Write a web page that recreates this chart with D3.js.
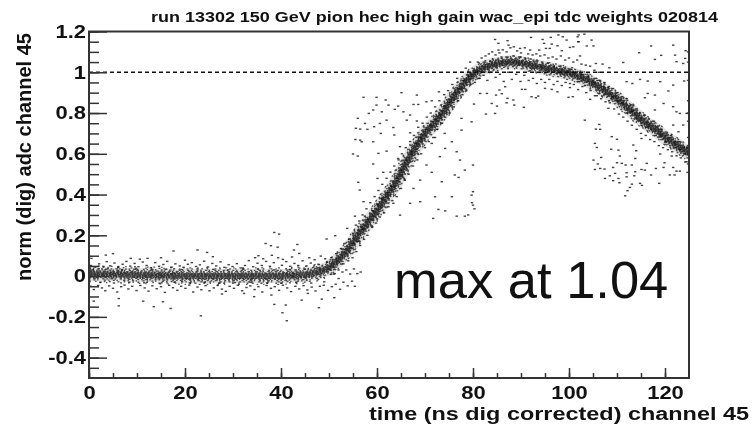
<!DOCTYPE html>
<html><head><meta charset="utf-8">
<script src="https://cdn.jsdelivr.net/npm/d3@7"></script>
<style>html,body{margin:0;background:#fff}svg{display:block;filter:blur(.4px)}text{font-family:"Liberation Sans",Arial,sans-serif;fill:#111}</style>
</head><body><svg id="c" width="752" height="426"></svg>
<script>
const titleText="run 13302 150 GeV pion hec high gain wac_epi tdc weights 020814";
const xLabel="time (ns dig corrected) channel 45";
const yLabel="norm (dig) adc channel 45";
const note="max at 1.04";
const xMajor=[0,20,40,60,80,100,120];
const yMajor=[-0.4,-0.2,0,0.2,0.4,0.6,0.8,1,1.2];
const yFormatted=["-0.4","-0.2","0","0.2","0.4","0.6","0.8","1","1.2"];
const pulseTime=[0,10,20,30,40,45,48,50,52,54,56,58,60,62,64,66,68,70,72,74,76,78,80,82,84,86,88,90,92,94,96,98,100,102,104,106,108,110,112,114,116,118,120,122,125];
const pulseValue=[0.01,0.005,0,0,0,0.005,0.02,0.04,0.08,0.13,0.2,0.26,0.32,0.39,0.46,0.55,0.63,0.7,0.75,0.81,0.88,0.94,0.99,1.02,1.035,1.045,1.05,1.045,1.035,1.025,1.015,1.005,0.995,0.98,0.96,0.93,0.9,0.87,0.83,0.79,0.75,0.72,0.68,0.65,0.6];
const baselineScatter=[[17.6,.123],[22.6,.128],[24.6,.116],[23.3,-.195],[17,-.159],[13.5,-.15],[11.3,-.123],[6.2,-.146],[6.2,-.11],[1,-.123],[15.4,-.126],[5,.11],[3.5,.103],[8.7,.087],[10.6,.083],[12.2,.087],[15,.09],[20,.078],[25.8,.095],[.5,.087],
[38.6,.214],[39.6,.206],[36.8,.16],[37.9,.149],[39.3,.142],[43.4,.155],[42.7,.128],[43.8,.111],[38.6,-.139],[41,-.142],[40.3,-.18],[41.2,-.219],[38,-.093],[44.3,-.118],[45.6,-.085],[47.9,-.155],[51.1,-.106],[48.5,-.113],[34.4,-.101],[27.7,-.088],[32.3,-.085],
[.4,.052],[1.2,.045],[2.1,.06],[3,.048],[3.7,.071],[4.4,.05],[5.3,.064],[6.1,.044],[7,.058],[7.8,.072],[8.6,.049],[9.5,.062],[10.3,.046],[11.2,.069],[12,.052],[12.9,.041],[13.8,.066],[14.6,.048],[15.5,.057],[16.3,.072],[17.2,.044],[18,.06],[18.9,.05],[19.7,.043],[20.6,.058],[21.4,.066],[22.3,.047],[23.1,.055],[24,.073],[24.8,.045],[25.7,.062],[26.5,.05],[27.4,.07],[28.2,.043],[29.1,.056],[29.9,.047],[30.8,.061],[31.6,.04],[32.5,.052],[33.3,.076],[34.2,.046],[34.6,.09],[35.1,.063],[35.3,.1],[36,.052],[36.3,.085],[36.9,.072],[37.7,.048],[38.1,.102],[38.5,.066],[39.4,.09],[40.2,.053],[40.4,.082],[41.1,.071],[41.9,.048],[42.3,.094],[42.8,.062],[43.6,.052],[44.5,.075],[45.3,.05],[45.9,.09],[46.2,.064],[47,.08],[47.8,.058],[48.3,.098],[49.2,.085],[49.6,.068],
[.3,-.05],[1,-.066],[1.9,-.046],[2.7,-.058],[3.4,-.072],[4.2,-.048],[5,-.06],[5.9,-.078],[6.7,-.052],[7.4,-.044],[8.2,-.063],[9,-.05],[9.9,-.071],[10.7,-.046],[11.6,-.058],[12.4,-.074],[13.2,-.048],[14.1,-.062],[15,-.052],[15.8,-.08],[16.7,-.045],[17.5,-.057],[18.4,-.07],[19.2,-.05],[20.1,-.06],[20.9,-.044],[21.7,-.078],[22.6,-.054],[23.4,-.067],[24.3,-.047],[25.1,-.072],[26,-.058],[26.8,-.046],[27.7,-.064],[28.5,-.075],[29.3,-.05],[30.2,-.06],[31,-.045],[31.9,-.072],[32.8,-.056],[33.6,-.048],[34.5,-.066],[35.3,-.052],[36.1,-.078],[37,-.046],[37.9,-.06],[38.7,-.052],[39.6,-.07],[40.4,-.045],[41.3,-.058],[42.1,-.076],[43,-.05],[43.8,-.063],[44.7,-.047],[45.5,-.068],[46.4,-.054],[47.2,-.073],[48.1,-.05],[48.9,-.045],[49.8,-.07],[50.6,-.052],[51.4,-.04],[52.3,-.065],[53,-.03],[53.9,-.048],[54.8,-.025],[55.4,-.05],
[.8,.03],[2.4,-.03],[3.6,.034],[5.2,-.034],[6.9,.032],[8.4,-.03],[9.8,.035],[11.5,-.033],[13,.03],[14.7,-.035],[16.1,.034],[17.8,-.03],[19.3,.032],[21,-.034],[22.6,.035],[24.1,-.03],[25.9,.033],[27.2,-.034],[29,.03],[30.4,-.032],[32.1,.035],[33.7,-.03],[35.2,.034],[37.1,-.034],[38.6,.03],[40.1,-.035],[41.8,.032],[43.2,-.03],[44.9,.034],[46.3,-.034],[47.7,.04],[49,-.028],[50.4,.008],[51.2,.012],[52,-.012],[52.8,.02],[53.6,.03],[54.4,.01],[55.2,.035],[55.9,.012],[56.6,.02]];
const riseScatter=[[49.5,.182],[51.3,.198],[53.8,.234],[57.2,.877],[59.9,.877],[61.8,.864],[65.1,.9],[68.3,.888],[72.9,.904],[59.9,.839],[62.4,.839],[64.4,.834],[67.6,.842],[68.6,.842],[70.3,.855],[71.4,.86],[58.3,.798],[59.2,.815],[61,.806],[63.7,.818],[65.5,.806],[66.9,.79],[56,.774],[57.5,.749],[59.4,.733],[60.6,.749],[62,.765],[63.4,.729],[66.2,.765],[68.3,.761],[55.6,.725],[56.5,.721],[58,.72],[60.8,.7],[63.6,.692],[66.9,.703],[56.5,.667],[55.5,.67],[56.8,.659],[59.2,.659],[62,.613],[60.3,.602],[55,.599],[56,.589],[64.8,.635],[64.4,.577],[59.2,.55],[61.3,.509],[56.1,.46],[60.1,.479],[56.4,.422],[57.2,.365],[55.4,.294],[64.8,.299],[63.4,.357],[67.6,.43],[69,.471],[71.4,.509],[73.5,.463],[75.6,.389],[72.1,.389],[69,.365],[66.9,.357],[72.8,.327],[74.2,.32],[71.7,.283],[76.6,.294],[78.3,.294],[80,.414],[80,.348],[79.7,.397],[78.3,.52],[77.3,.569],[75.6,.659],[74.2,.626],[76.6,.61],[80,.545],[77,.484],[76.2,.496],[73.1,.586],[70.3,.545],[71.4,.651],[77.6,.716],[77.6,.774],[79.7,.757],[74.1,.7],[72.1,.68],[79,.3],[80.3,.33],[79.8,.36],
[50.5,.09],[51.5,.11],[52.5,.135],[53.2,.16],[54.2,.18],[55,.21],[55.6,.25],[56.3,.27],[57,.3],[57.8,.33],[58.6,.36],[59.5,.39],[60.3,.42],[61.1,.45],[62,.48],[62.8,.51],[63.6,.54],[64.5,.57],[65.2,.6],[66,.63],[66.9,.66],[67.7,.69],[68.6,.73],[69.5,.75],[70.4,.78],[71.2,.8],[72.1,.83],[73,.86],[74,.89],[74.8,.91],[75.7,.94],[76.7,.97],[77.6,1],[78.5,1.02],[79.4,1.05],
[51,.01],[52,.03],[53,.06],[54,.075],[54.9,.09],[55.7,.12],[56.5,.15],[57.3,.18],[58,.2],[59,.24],[59.8,.26],[60.6,.29],[61.5,.31],[62.4,.34],[63.2,.37],[64.1,.39],[65,.43],[65.8,.47],[66.6,.5],[67.5,.54],[68.4,.57],[69.2,.6],[70,.63],[70.8,.66],[71.7,.68],[72.5,.72],[73.4,.75],[74.2,.78],[75.1,.8],[76,.83],[76.9,.86],[77.8,.89],[78.6,.91],[79.5,.94],[80.4,.95],[81.2,.97],
[55.2,.16],[56.1,.17],[57.1,.23],[58.2,.28],[59.1,.32],[60.1,.35],[61.1,.38],[62.2,.41],[63,.44],[64.2,.48],[65.1,.52],[66.1,.57],[67.1,.61],[68.1,.65],[69.1,.68],[70.2,.72],[71.1,.74],[72.2,.77],[73.1,.79],[74.1,.83],[75.1,.85],[76.1,.9],[77.1,.92],[78.1,.96],[79.1,.98]];
const peakScatter=[[84.6,1.161],[85.3,1.142],[87.2,1.155],[87.4,1.133],[92.1,1.171],[94.5,1.161],[96.2,1.171],[97.8,1.183],[99.5,1.158],[98.7,1.174],[101.8,1.174],[102,1.15],[94.8,1.142],[96.4,1.138],[97.6,1.13],[100.2,1.122],[100.9,1.125],[85.3,1.109],[89.8,1.117],[91.9,1.109],[93.8,1.109],[95.2,1.117],[96,1.117],[98.5,1.106],[81.5,.896],[82.9,.896],[84.8,.888],[86.7,.929],[85.5,.913],[86,.895],[83.9,.847],[85,.834],[87.2,.872],[88.4,.864],[87,.85],[88.6,.839],[90.6,.828],[84.6,.798],[82.7,.795],[80.2,.844],[90.2,.916],[90.9,.916],[92.2,.88],[93.6,.883],[93.1,.875],[95,.921],[96.4,.916],[97.6,.904],[99.9,.877],[100.8,.88],[100.2,.945],[102,.954],
[81,1.05],[81.8,1.07],[82.6,1.08],[83.3,1.09],[84,1.1],[84.7,1.085],[85.5,1.095],[86.2,1.11],[87,1.1],[87.8,1.12],[88.5,1.125],[89.2,1.105],[90,1.095],[90.8,1.12],[91.5,1.09],[92.4,1.085],[93.2,1.09],[94,1.08],[94.9,1.085],[95.7,1.07],[96.6,1.075],[97.4,1.065],[98.3,1.08],[99.2,1.06],[100,1.07],[100.9,1.05],[101.7,1.06],[102.6,1.04],[103.5,1.035],[104.4,1.03],[105.3,1.01],[106.2,1],
[81.4,.97],[82.2,.985],[83,.96],[83.9,1],[84.7,.975],[85.6,.99],[86.4,.955],[87.3,1],[88.1,.965],[89,.99],[89.9,.955],[90.7,.985],[91.6,.96],[92.5,.97],[93.3,.945],[94.2,.965],[95,.95],[95.9,.965],[96.8,.94],[97.6,.955],[98.5,.935],[99.3,.95],[100.2,.925],[101,.94],[101.9,.915],[102.8,.93],[103.6,.9],[104.5,.91],[105.4,.885],[106.3,.895],
[82.5,1.05],[83.6,1.055],[84.8,1.06],[86,1.07],[87.2,1.075],[88.4,1.08],[89.6,1.075],[90.8,1.07],[92,1.065],[93.2,1.055],[94.4,1.05],[95.6,1.045],[96.8,1.03],[98,1.03],[99.2,1.02],[100.4,1.015],[101.6,1],[102.8,.99],[104,.98],[105.2,.95]];
const fallScatter=[[117.1,1.129],[121.7,1.133],[114.6,1.096],[119.2,1.083],[117.9,1.063],[124.3,1.106],[122.1,1.084],[122.4,1.052],[124.2,1.068],[123.8,1.043],[111.3,1.048],[105.6,1.043],[107,1.04],[108.4,1.022],[104.7,1.158],[102,1.183],[103.2,1.187],[103.7,1.129],[105.1,1.129],[101.9,1.15],[102.3,1.08],[114.8,.965],[116.4,.957],[119,.954],[121.7,.937],[124,.957],[112,.954],[113.2,.945],[120.7,.908],[116.4,.896],[117.9,.888],[115.8,.875],[119.7,.847],[117.9,.815],[121.7,.831],[122.4,.806],[123.1,.798],[124.5,.798],[121.7,.741],[123.8,.741],[122.8,.708],[115.1,.675],[104.4,.867],[108.2,.823],[103.3,.765],[106.3,.744],[105.6,.721],[106.5,.72],[108.9,.684],[110,.671],[105.4,.651],[105.8,.631],[108.8,.622],[110.3,.618],[113.4,.643],[114,.615],[113.8,.577],[110.6,.589],[106.7,.582],[105.1,.569],[106,.55],[106.5,.528],[105.4,.523],[107.4,.525],[109.2,.533],[110,.556],[111,.553],[111.8,.545],[113.1,.545],[115.1,.523],[116.2,.553],[115.8,.52],[117.1,.496],[113.8,.512],[112,.507],[109.6,.504],[108.5,.492],[107.5,.479],[110.3,.479],[109.2,.468],[110.5,.458],[112,.487],[113.6,.492],[113.1,.451],[112.7,.435],[112.2,.419],[111.7,.394],[114.8,.455],[115.2,.445],[118.8,.455],[121,.496],[122,.496],[122.4,.515],[123.1,.515],[124.7,.509],[119.9,.556],[121.7,.533],[119.7,.533],[118.1,.528],[121.4,.589],[119,.599],[124.5,.561],
[124.8,1.1],[124.8,1.05],[124.8,.96],[124.8,.86],[124.8,.8],[124.8,.76],[124.8,.68],[124.8,.55],[124.8,.64],
[105.5,.97],[106.5,.96],[107.4,.95],[108.3,.93],[109.2,.92],[110.1,.9],[111,.88],[112,.87],[113,.84],[113.9,.82],[114.8,.8],[115.7,.79],[116.6,.77],[117.5,.76],[118.4,.73],[119.3,.72],[120.3,.7],[121.2,.69],[122.1,.66],[123,.66],[123.9,.63],[124.6,.63],
[105.8,.885],[106.7,.87],[107.6,.855],[108.5,.85],[109.4,.82],[110.4,.795],[111.3,.78],[112.2,.76],[113.1,.74],[114.1,.72],[115,.7],[116,.69],[116.9,.67],[117.8,.66],[118.7,.64],[119.6,.63],[120.6,.62],[121.5,.61],[122.4,.59],[123.3,.58],[124.2,.56],
[106.1,.96],[107.1,.93],[108.1,.925],[109.1,.88],[110.1,.86],[111.1,.85],[112.1,.8],[113.1,.81],[114.1,.77],[115.1,.74],[116.1,.73],[117.1,.72],[118.1,.69],[119.1,.69],[120.1,.66],[121.1,.64],[122.1,.63],[123.1,.62],[124.1,.6],[124.7,.58]];
const guideLevel=[1];
// texture of the dense band: strand offset across the band (px) and its dash rhythm
const strandOffset=[-7.5,-6.5,-5.2,-4,-3,-2,-1,0,1,2,3,4,5.2,6.5,7.5];
const strandDash=["1.5 7.3 2 11.1 1.5 4.7 2 5.9","2 3.7 1.5 6.1 2 2.9 1.5 8.3","2 1.7 1.5 3.1 2.5 1.3 1.5 4.3","2.5 1.1 1.5 2.3 3 1.7 2 .9 1.5 3.3","3 .7 2 1.3 1.5 .9 2.5 1.9","3.3 .6 2.1 1.1 2.7 .7 1.7 1.3","4.1 .5 2.3 .9 3.1 .6","2.9 .7 5.3 .5 1.9 .8 3.7 .6","4.3 .9 1.7 .6 3.3 1.1","1.9 1.3 3.7 .7 2.3 1.1 1.3 .9","2.3 1.9 1.7 .9 3.1 1.5 1.3 2.7","1.7 2.3 2.9 1.3 1.5 3.7 2.1 1.9","1.5 3.1 2 1.7 1.3 5.3 2.3 2.1","2 4.3 1.5 7.1 1.7 3.3 2 6.7","1.5 9.1 1.7 4.9 1.3 12.7 2 6.1"];

const L=89,R=689,T=31.5,B=378;
const x=d3.scaleLinear().domain([0,125]).range([L,R]);
const y=d3.scaleLinear().domain([-0.5,1.2]).range([B,T]);
const svg=d3.select("#c");
const px=pulseTime.map((t,i)=>[x(t),y(pulseValue[i])]);
// offset the measured centre line along its local normal, slightly wider on the flat baseline
const offsetLine=k=>px.map((p,i)=>{
  const a=px[Math.max(i-1,0)],b=px[Math.min(i+1,px.length-1)];
  const dx=b[0]-a[0],dy=b[1]-a[1],n=Math.hypot(dx,dy)||1;
  const w=pulseTime[i]<50?1.1:.85;
  return [p[0]-dy/n*k*w,p[1]+dx/n*k*w];
});
const line=d3.line();
svg.append("defs").append("clipPath").attr("id","pc").append("rect").attr("x",L).attr("y",T).attr("width",R-L).attr("height",B-T);
const plot=svg.append("g").attr("clip-path","url(#pc)");
plot.append("path").attr("d",line(px)).attr("fill","none").attr("stroke","#222").attr("stroke-opacity",.13).attr("stroke-width",14);
plot.append("path").attr("d",line(px)).attr("fill","none").attr("stroke","#111").attr("stroke-opacity",.35).attr("stroke-width",6);
plot.selectAll("path.s").data(strandOffset).join("path").attr("class","s")
 .attr("d",d=>line(offsetLine(d))).attr("fill","none").attr("stroke","#111").attr("stroke-opacity",.72).attr("stroke-width",1.3)
 .attr("stroke-dasharray",(d,i)=>strandDash[i]);
plot.selectAll("rect.p").data([...baselineScatter,...riseScatter,...peakScatter,...fallScatter]).join("rect").attr("class","p")
 .attr("x",d=>x(d[0])-1.2).attr("y",d=>y(d[1])-.7).attr("width",2.4).attr("height",1.4).attr("fill","#111").attr("fill-opacity",.8);
svg.selectAll("line.g").data(guideLevel).join("line").attr("class","g").attr("x1",L).attr("x2",R).attr("y1",d=>y(d)).attr("y2",d=>y(d)).attr("stroke","#111").attr("stroke-width",1.4).attr("stroke-dasharray","4 3");

function stretch(sel,k){sel.each(function(){const n=this.getComputedTextLength();d3.select(this).attr("textLength",n*k).attr("lengthAdjust","spacingAndGlyphs");});}
const fixText=(g)=>g.selectAll("text").attr("font-size",18).attr("font-weight","bold");

const xa=svg.append("g").attr("transform",`translate(0,${B})`);
xa.call(d3.axisBottom(x).tickValues(d3.range(0,125,5)).tickSize(-5).tickFormat(""));
xa.selectAll(".tick line").attr("stroke","#333").attr("stroke-width",1.5);
const xb=svg.append("g").attr("transform",`translate(0,${B})`);
xb.call(d3.axisBottom(x).tickValues(xMajor).tickSize(-10).tickPadding(8).tickFormat(d3.format("d")));
xb.selectAll(".tick line").attr("stroke","#333").attr("stroke-width",1.5);
xb.selectAll(".domain").remove();xa.selectAll(".domain").remove();
fixText(xb);stretch(xb.selectAll("text"),1.22);

const ya=svg.append("g").attr("transform",`translate(${L},0)`);
ya.call(d3.axisLeft(y).tickValues(d3.range(-9,25).map(i=>i*.05)).tickSize(-10).tickFormat(""));
ya.selectAll(".tick line").attr("stroke","#333").attr("stroke-width",1.5);
const yb=svg.append("g").attr("transform",`translate(${L},0)`);
yb.call(d3.axisLeft(y).tickValues(yMajor).tickSize(-18).tickPadding(3).tickFormat((d,i)=>yFormatted[i]));
yb.selectAll(".tick line").attr("stroke","#333").attr("stroke-width",1.5);
ya.selectAll(".domain").remove();yb.selectAll(".domain").remove();
fixText(yb);stretch(yb.selectAll("text"),1.22);

svg.append("rect").attr("x",L).attr("y",T).attr("width",R-L).attr("height",B-T).attr("fill","none").attr("stroke","#333").attr("stroke-width",2);

svg.append("text").attr("x",151).attr("y",22).attr("font-size",14).attr("font-weight","bold").text(titleText).attr("textLength",567).attr("lengthAdjust","spacingAndGlyphs");
svg.append("text").attr("x",749).attr("y",420).attr("text-anchor","end").attr("font-size",18).attr("font-weight","bold").text(xLabel).attr("textLength",380).attr("lengthAdjust","spacingAndGlyphs");
svg.append("text").attr("transform","translate(31,33) rotate(-90)").attr("text-anchor","end").attr("font-size",20).attr("font-weight","bold").text(yLabel).attr("textLength",248).attr("lengthAdjust","spacingAndGlyphs");
svg.append("text").attr("x",394).attr("y",298).attr("font-size",52.5).text(note);
</script></body></html>
